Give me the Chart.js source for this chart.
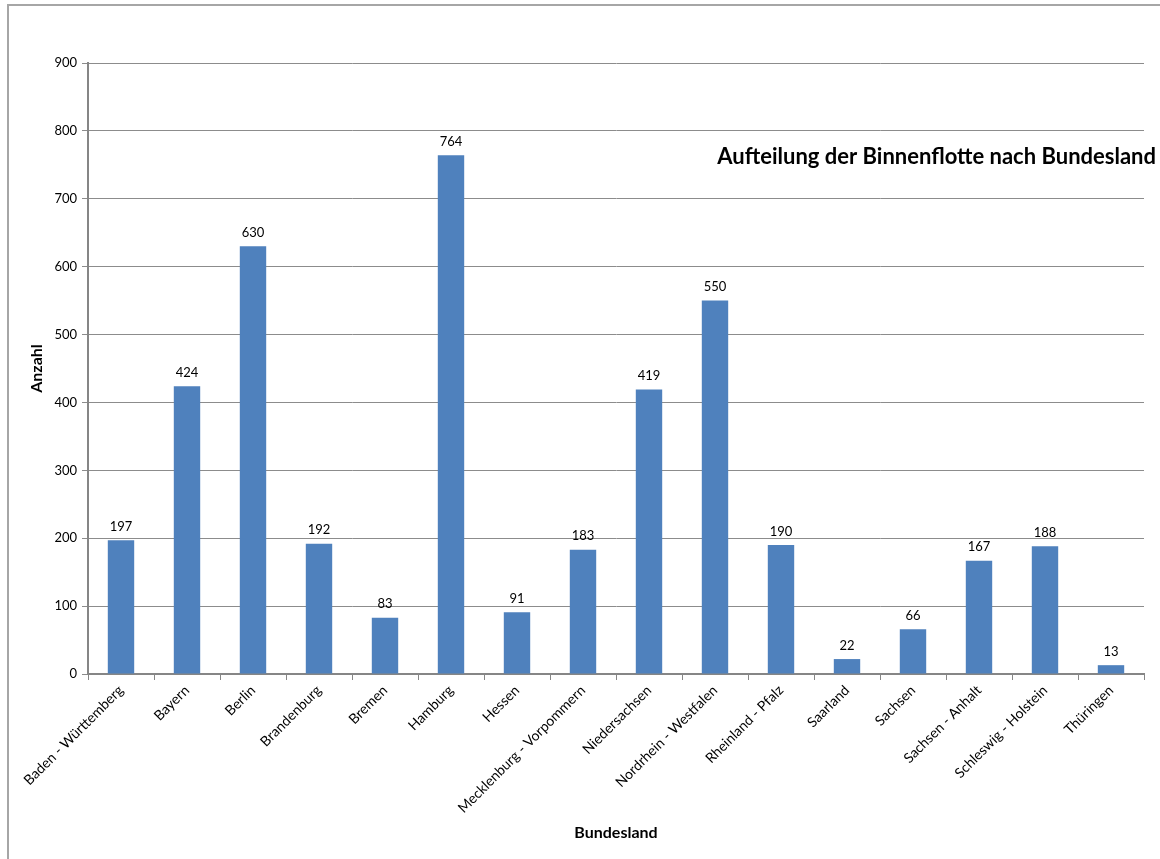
<!DOCTYPE html>
<html>
<head>
<meta charset="utf-8">
<script src="https://cdn.jsdelivr.net/npm/chart.js@4/dist/chart.umd.min.js"></script>
<style>
    html, body { margin: 0; padding: 0; background: #fff; }
    #wrap { width: 1160px; height: 859px; }
</style>
</head>
<body>
<div id="wrap"><canvas id="fleetChart" width="1160" height="859"></canvas></div>
<script>
const bundeslaender = [
    'Baden - Württemberg', 'Bayern', 'Berlin', 'Brandenburg', 'Bremen', 'Hamburg',
    'Hessen', 'Mecklenburg - Vorpommern', 'Niedersachsen', 'Nordrhein - Westfalen',
    'Rheinland - Pfalz', 'Saarland', 'Sachsen', 'Sachsen - Anhalt',
    'Schleswig - Holstein', 'Thüringen'
];
const anzahl = [197, 424, 630, 192, 83, 764, 91, 183, 419, 550, 190, 22, 66, 167, 188, 13];
const yMax = 900;
const yStep = 100;
const chartTitle = 'Aufteilung der Binnenflotte nach Bundesland';
const xTitle = 'Bundesland';
const yTitle = 'Anzahl';

const FONT = 'Lato, "Open Sans", sans-serif';

// frame around the whole chart object (only left and top edges are visible)
const framePlugin = {
    id: 'frame',
    beforeDraw(chart) {
        const ctx = chart.ctx;
        ctx.save();
        ctx.strokeStyle = '#a6a6a6';
        ctx.lineWidth = 2;
        ctx.beginPath();
        ctx.moveTo(8, 859);
        ctx.lineTo(8, 5);
        ctx.lineTo(1160, 5);
        ctx.stroke();
        ctx.restore();
    }
};

// value labels above each bar
const valueLabels = {
    id: 'valueLabels',
    afterDatasetsDraw(chart) {
        const ctx = chart.ctx;
        const meta = chart.getDatasetMeta(0);
        ctx.save();
        ctx.font = '13px ' + FONT;
        ctx.fillStyle = '#000';
        ctx.textAlign = 'center';
        ctx.textBaseline = 'bottom';
        meta.data.forEach((bar, i) => {
            ctx.fillText(String(anzahl[i]), bar.x, bar.y - 7);
        });
        ctx.restore();
    }
};

// chart title sits inside the plot, top right
const innerTitle = {
    id: 'innerTitle',
    afterDraw(chart) {
        const ctx = chart.ctx;
        ctx.save();
        ctx.font = 'bold 22px ' + FONT;
        ctx.fillStyle = '#000';
        ctx.textAlign = 'right';
        ctx.textBaseline = 'middle';
        ctx.fillText(chartTitle, 1156, 157);
        ctx.restore();
    }
};

new Chart(document.getElementById('fleetChart').getContext('2d'), {
    type: 'bar',
    data: {
        labels: bundeslaender,
        datasets: [{
            label: yTitle,
            data: anzahl,
            backgroundColor: '#4f81bd',
            borderWidth: 0,
            barPercentage: 0.4,
            categoryPercentage: 1.0
        }]
    },
    options: {
        responsive: false,
        animation: false,
        layout: { padding: { left: 0, top: 63, right: 16, bottom: 0 } },
        plugins: {
            legend: { display: false },
            tooltip: { enabled: false }
        },
        scales: {
            x: {
                offset: true,
                grid: {
                    display: true,
                    offset: true,
                    drawOnChartArea: false,
                    drawTicks: true,
                    tickLength: 6,
                    color: '#868686'
                },
                border: { color: '#868686', width: 2 },
                ticks: {
                    color: '#000',
                    font: { family: FONT, size: 14 },
                    minRotation: 45,
                    maxRotation: 45,
                    autoSkip: false,
                    padding: 2
                },
                title: {
                    display: true,
                    text: xTitle,
                    color: '#000',
                    font: { family: FONT, size: 16, weight: 'bold' },
                    padding: { top: 0, bottom: 17 }
                },
                afterFit(scale) { scale.height = 185; }
            },
            y: {
                min: 0,
                max: yMax,
                grid: {
                    color: '#8c8c8c',
                    lineWidth: 1,
                    tickLength: 6,
                    drawTicks: true
                },
                border: { color: '#868686', width: 2 },
                ticks: {
                    stepSize: yStep,
                    color: '#000',
                    font: { family: FONT, size: 13 },
                    padding: 5
                },
                title: {
                    display: true,
                    text: yTitle,
                    color: '#000',
                    font: { family: FONT, size: 16, weight: 'bold' },
                    padding: { top: 27, bottom: 0 }
                },
                afterFit(scale) { scale.width = 88; }
            }
        }
    },
    plugins: [framePlugin, valueLabels, innerTitle]
});
</script>
</body>
</html>
